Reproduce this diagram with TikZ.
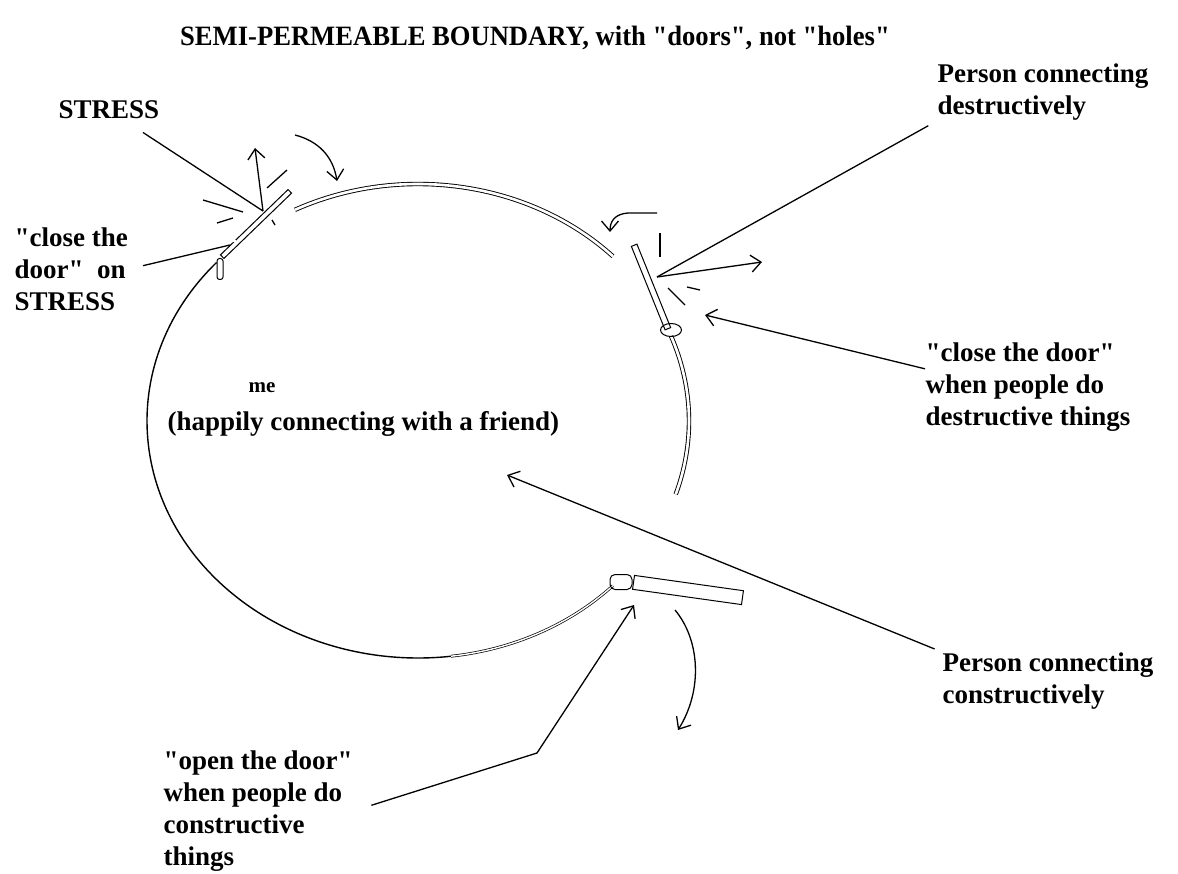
\documentclass[tikz,border=0pt]{standalone}
\usepackage{fontspec}
\setmainfont{Liberation Serif}[Ligatures=TeXOff]
\usetikzlibrary{arrows.meta,shapes.geometric}

\begin{document}
\begin{tikzpicture}[x=1pt,y=-1pt,line width=1.3pt,
		lbl/.style={font=\fontsize{27}{32}\selectfont\bfseries,align=left,inner sep=0pt},
		door/.style={draw,line width=1pt,inner sep=0pt,minimum height=5pt},
		hinge/.style={draw,line width=1pt,inner sep=0pt},
		rim/.style={line width=.9pt,double,double distance=2.6pt},
		chain/.style={line width=.7pt,double,double distance=1.4pt},
		barb/.style={-{Straight Barb[length=10pt,width=17pt]}}]
			\useasboundingbox (0,0) rectangle (1178,874);
			\coordinate (c) at (418,421);
			\draw[line width=1.4pt] (c) ++(-138:271 and 237) arc[start angle=-138,end angle=-277,x radius=271,y radius=237];
			\draw[chain] (c) ++(-277:271 and 237) arc[start angle=-277,end angle=-316,x radius=271,y radius=237];
			\draw[rim] (c) ++(-44:271 and 237) arc[start angle=-44,end angle=-117,x radius=271,y radius=237];
			\draw[rim] (c) ++(-21:271 and 237) arc[start angle=-21,end angle=18,x radius=271,y radius=237];

			\node[door,minimum width=94pt,rotate=44] (doorS) at (256,224) {};
			\node[door,minimum width=90pt,minimum height=6pt,rotate=-68] (doorD) at (651,287) {};
			\node[door,minimum width=110pt,minimum height=14pt,rotate=-8] (doorC) at (688,590) {};
			\node[hinge,rounded corners=2.5pt,minimum width=6pt,minimum height=21pt] (hingeS) at (220,269) {};
			\node[hinge,ellipse,minimum width=21pt,minimum height=13pt] (hingeD) at (671,330) {};
			\node[hinge,rounded corners=5pt,minimum width=22pt,minimum height=15pt] (hingeC) at (621,582) {};
			\draw[chain] (215,241) -- (236,241);

			\coordinate (sTip) at (263,211);
			\coordinate (sOut) at (255,148);
			\coordinate (hA) at (230,245);
			\coordinate (tA) at (295,135);
			\coordinate (tB) at (337,181);
			\coordinate (dTip) at (657,277);
			\coordinate (dOut) at (762,262);
			\coordinate (dIn) at (705,315);
			\coordinate (rA) at (657,213);
			\coordinate (rB) at (610,232);
			\coordinate (mTip) at (507,475);
			\coordinate (oKink) at (537,753);
			\coordinate (oTip) at (634,605);
			\coordinate (bA) at (675,610);
			\coordinate (bB) at (678,730);

			\node[lbl,font=\fontsize{28}{32}\selectfont\bfseries,xscale=.95,anchor=base] (title) at (535,46) {SEMI-PERMEABLE BOUNDARY, with "doors", not "holes"};
			\node[lbl,anchor=base west] (stress) at (58,119) {STRESS};
			\node[lbl,anchor=north west] (closeS) at (14,227) {"close the\\door"\ \ on\\STRESS};
			\node[lbl,anchor=north west] (destr) at (937,63) {Person connecting\\destructively};
			\node[lbl,anchor=north west] (closeD) at (925,342) {"close the door"\\when people do\\destructive things};
			\node[font=\fontsize{21}{24}\selectfont\bfseries,inner sep=0pt,anchor=base] (me) at (262,392) {me};
			\node[lbl,anchor=base west] (happy) at (167,430) {(happily connecting with a friend)};
			\node[lbl,anchor=north west] (constr) at (942,652) {Person connecting\\constructively};
			\node[lbl,anchor=north west] (openD) at (163,750) {"open the door"\\when people do\\constructive\\things};

			\draw[shorten <=23pt] (stress) -- (sTip);
			\draw[shorten <=15pt] (closeS.east) -- (hA);
			\draw[shorten <=10pt] (destr.south west) -- (dTip);
			\draw[barb] (closeD.170) -- (dIn);
			\draw[barb,shorten <=8pt] (constr.north west) -- (mTip);
			\draw[barb,shorten <=19pt] (openD.east) -- (oKink) -- (oTip);

			\draw[barb] (sTip) -- (sOut);
			\draw[barb] (tA) .. controls (318,141) and (333,156) .. (tB);
			\draw[barb] (dTip) -- (dOut);
			\draw[barb] (rA) -- (628,213) .. controls (615,214) and (610,221) .. (rB);
			\draw[barb] (bA) .. controls (700,640) and (703,690) .. (bB);
			\foreach \xa/\ya/\xb/\yb in {203/200/243/212,217/223/233/218,267/188/287/170,272/220/275/225,668/288/685/305,687/287/700/290,660/233/660/257}
				\draw (\xa,\ya) -- (\xb,\yb);
		\end{tikzpicture}
\end{document}
